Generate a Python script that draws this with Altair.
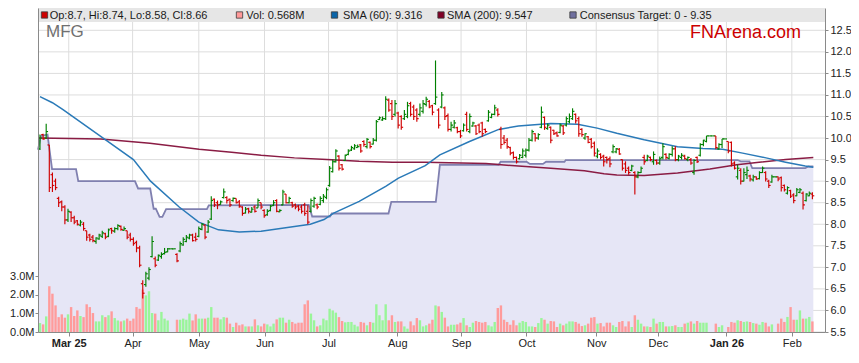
import altair as alt
import pandas as pd

# ---------------- data ----------------
opens = [9.75,10.08,10.0,9.84,9.15,9.0,8.6,8.52,8.4,8.1,
 8.28,8.15,8.08,7.98,8.0,7.85,7.75,7.7,7.6,7.66,
 7.72,7.78,7.72,7.9,7.84,7.9,7.95,7.86,7.85,7.75,
 7.65,7.58,7.45,6.62,6.6,6.75,7.25,7.2,7.17,7.25,
 7.32,7.36,7.43,7.43,7.3,7.38,7.52,7.6,7.68,7.75,
 7.7,7.72,7.88,7.98,7.82,8.12,8.58,8.5,8.46,8.62,
 8.62,8.58,8.55,8.6,8.52,8.4,8.26,8.36,8.28,8.4,
 8.38,8.5,8.32,8.22,8.32,8.44,8.55,8.29,8.45,8.7,
 8.5,8.5,8.45,8.42,8.4,8.45,8.3,8.3,8.42,8.45,
 8.46,8.55,8.62,8.9,9.22,9.45,9.58,9.38,9.48,9.62,
 9.72,9.75,9.78,9.84,9.92,9.8,9.9,9.86,9.95,10.43,
 10.42,10.45,10.88,10.8,10.55,10.58,10.5,10.45,10.5,10.8,
 10.72,10.65,10.55,10.62,10.78,10.85,10.75,10.8,10.65,10.72,
 10.7,10.52,10.2,10.25,10.24,10.15,10.17,10.55,10.15,10.28,
 10.28,10.3,10.35,10.2,10.4,10.48,10.55,10.65,10.2,10.0,
 9.95,9.78,9.66,9.55,9.52,9.55,9.6,9.72,9.95,10.1,
 10.0,10.25,10.48,10.22,10.25,10.18,10.12,10.13,10.28,10.3,
 10.38,10.45,10.55,10.45,10.2,10.0,10.03,9.97,9.88,9.58,
 9.62,9.58,9.55,9.52,9.68,9.68,9.74,9.5,9.4,9.3,
 9.25,9.2,9.1,9.2,9.55,9.48,9.55,9.45,9.48,9.42,
 9.55,9.62,9.53,9.62,9.75,9.5,9.55,9.58,9.5,9.5,
 9.2,9.55,9.6,9.85,9.92,10.05,10.05,10.05,9.75,9.85,
 9.98,9.92,9.9,9.42,9.1,9.25,9.0,9.15,9.12,9.03,
 9.1,9.06,9.2,9.2,9.0,8.98,9.1,9.1,9.08,8.9,
 8.72,8.78,8.68,8.66,8.74,8.72,8.55,8.66,8.7]

highs = [10.08,10.1,10.33,9.84,9.2,9.06,8.64,8.55,8.44,8.36,
 8.3,8.2,8.1,8.1,8.05,7.85,7.78,7.75,7.7,7.78,
 7.85,7.8,7.9,7.92,7.93,8.0,7.97,7.95,7.85,7.8,
 7.7,7.62,7.5,6.7,6.9,7.0,7.72,7.25,7.3,7.35,
 7.45,7.45,7.43,7.43,7.33,7.6,7.7,7.75,7.78,7.78,
 7.8,7.95,8.03,8.0,8.1,8.65,8.6,8.55,8.55,8.83,
 8.65,8.6,8.62,8.6,8.56,8.42,8.4,8.38,8.4,8.44,
 8.6,8.5,8.35,8.35,8.45,8.56,8.58,8.35,8.8,8.7,
 8.64,8.52,8.48,8.45,8.45,8.5,8.44,8.6,8.64,8.48,
 8.65,8.7,8.85,9.35,9.5,9.74,9.6,9.4,9.62,9.74,
 9.82,9.86,9.85,9.86,9.95,10.0,9.92,10.0,10.42,10.5,
 10.5,10.97,10.92,10.88,10.88,10.61,10.53,10.65,10.84,10.84,
 10.77,10.69,10.8,10.88,10.96,10.88,10.77,11.8,10.69,11.07,
 10.73,10.57,10.38,10.42,10.26,10.19,10.34,10.61,10.57,10.38,
 10.3,10.34,10.38,10.22,10.65,10.57,10.77,10.69,10.26,10.07,
 10.0,9.8,9.69,9.57,9.63,9.76,9.76,10.0,10.19,10.11,
 10.11,10.73,10.5,10.34,10.27,10.19,10.15,10.34,10.3,10.5,
 10.57,10.69,10.57,10.5,10.23,10.11,10.05,10.0,9.92,9.76,
 9.65,9.61,9.57,9.57,9.85,9.77,9.77,9.5,9.46,9.34,
 9.38,9.23,9.23,9.34,9.61,9.61,9.57,9.69,9.5,9.57,
 9.88,9.65,9.65,9.81,9.81,9.61,9.65,9.61,9.57,9.54,
 9.51,9.57,9.88,9.96,10.05,10.05,10.05,10.05,9.88,9.98,
 9.98,9.92,9.92,9.46,9.38,9.3,9.3,9.34,9.15,9.15,
 9.11,9.23,9.34,9.23,9.03,9.15,9.1,9.11,9.11,8.92,
 8.88,8.8,8.72,8.84,8.84,8.76,8.72,8.76,8.74]

lows = [9.72,9.96,9.98,8.75,8.75,8.79,8.4,8.3,8.0,8.05,
 8.05,8.0,7.97,7.95,7.85,7.62,7.6,7.58,7.55,7.64,
 7.68,7.65,7.7,7.78,7.8,7.86,7.85,7.85,7.65,7.6,
 7.5,7.35,7.0,6.28,6.55,6.7,7.23,7.0,7.15,7.2,
 7.3,7.35,7.43,7.43,7.12,7.35,7.5,7.58,7.65,7.6,
 7.6,7.7,7.86,7.65,7.8,8.1,8.4,8.35,8.45,8.6,
 8.48,8.4,8.52,8.48,8.38,8.2,8.25,8.25,8.27,8.27,
 8.38,8.35,8.15,8.2,8.3,8.42,8.28,8.28,8.44,8.48,
 8.48,8.38,8.35,8.3,8.25,8.2,8.0,8.27,8.38,8.35,
 8.44,8.5,8.58,8.87,9.2,9.43,9.25,9.25,9.47,9.6,
 9.7,9.73,9.78,9.66,9.8,9.76,9.76,9.85,9.92,10.42,
 10.4,10.42,10.61,10.42,10.5,10.22,10.19,10.42,10.46,10.5,
 10.42,10.38,10.5,10.57,10.73,10.69,10.53,10.77,10.22,10.69,
 10.42,10.15,10.15,10.22,10.11,10.0,10.15,10.15,10.11,10.26,
 10.07,10.11,10.03,10.11,10.38,10.46,10.53,10.5,9.75,9.85,
 9.75,9.6,9.5,9.41,9.5,9.53,9.55,9.69,9.92,9.92,
 9.96,10.23,10.19,10.19,9.88,10.07,10.03,10.11,10.07,10.27,
 10.34,10.42,10.34,10.03,10.03,9.96,9.88,9.76,9.57,9.53,
 9.5,9.34,9.41,9.32,9.65,9.65,9.61,9.25,9.19,9.15,
 9.23,8.69,9.07,9.19,9.38,9.46,9.46,9.38,9.38,9.38,
 9.5,9.5,9.5,9.57,9.46,9.46,9.5,9.5,9.46,9.38,
 9.15,9.42,9.57,9.81,9.9,10.05,10.05,9.74,9.73,9.77,
 9.98,9.65,9.34,9.27,9.04,8.92,8.99,9.05,8.99,8.99,
 9.03,9.04,9.19,8.99,8.84,8.96,9.1,9.0,8.76,8.76,
 8.69,8.61,8.49,8.65,8.72,8.34,8.53,8.65,8.58]

closes = [10.0,9.98,10.15,8.85,8.9,8.85,8.5,8.4,8.1,8.3,
 8.15,8.05,8.0,8.05,7.9,7.7,7.65,7.62,7.68,7.75,
 7.8,7.7,7.87,7.85,7.9,7.97,7.88,7.9,7.7,7.65,
 7.55,7.45,7.05,6.4,6.85,6.95,7.6,7.05,7.28,7.3,
 7.35,7.43,7.43,7.43,7.15,7.55,7.65,7.7,7.75,7.62,
 7.65,7.9,8.0,7.7,8.05,8.55,8.45,8.45,8.52,8.75,
 8.55,8.45,8.6,8.5,8.42,8.25,8.35,8.3,8.35,8.3,
 8.55,8.4,8.2,8.3,8.42,8.5,8.3,8.32,8.75,8.5,
 8.6,8.42,8.4,8.35,8.3,8.25,8.05,8.55,8.6,8.4,
 8.6,8.65,8.8,9.3,9.45,9.7,9.3,9.28,9.6,9.7,
 9.78,9.82,9.8,9.7,9.85,9.97,9.8,9.95,10.38,10.47,
 10.45,10.9,10.65,10.5,10.8,10.3,10.25,10.55,10.75,10.55,
 10.5,10.45,10.7,10.8,10.9,10.72,10.6,10.95,10.3,11.0,
 10.5,10.2,10.3,10.35,10.15,10.05,10.3,10.2,10.5,10.35,
 10.1,10.15,10.1,10.15,10.6,10.55,10.7,10.55,9.85,9.9,
 9.8,9.65,9.55,9.45,9.6,9.7,9.72,9.95,10.15,10.0,
 10.08,10.6,10.25,10.3,9.95,10.1,10.05,10.3,10.12,10.45,
 10.5,10.62,10.4,10.1,10.08,10.1,9.9,9.8,9.65,9.7,
 9.55,9.45,9.5,9.4,9.8,9.75,9.63,9.3,9.25,9.2,
 9.35,9.1,9.2,9.3,9.45,9.58,9.5,9.62,9.42,9.52,
 9.8,9.55,9.62,9.75,9.5,9.58,9.6,9.52,9.55,9.42,
 9.48,9.45,9.85,9.95,10.05,10.05,10.05,9.78,9.85,9.98,
 9.98,9.7,9.4,9.3,9.3,9.0,9.2,9.25,9.05,9.1,
 9.05,9.2,9.3,9.05,8.9,9.1,9.1,9.05,8.85,8.8,
 8.85,8.65,8.55,8.8,8.8,8.45,8.7,8.72,8.66]

volumes = [0.48,0.41,0.84,2.46,2.06,1.43,0.8,0.95,0.77,0.95,
 1.34,0.86,1.16,0.86,0.8,1.49,1.34,1.02,0.57,0.57,
 0.9,0.8,0.9,1.11,0.75,0.62,0.57,0.62,0.72,0.6,
 0.72,1.34,1.25,2.28,1.97,2.19,1.02,0.99,0.63,1.08,
 0.72,0.62,0.0,0.0,0.66,0.66,0.72,0.66,0.99,0.62,
 0.95,0.72,0.72,0.72,0.77,1.34,0.77,0.77,0.68,0.8,
 0.77,0.45,0.27,0.5,0.36,0.41,0.3,0.3,0.3,0.68,
 0.36,0.3,0.45,0.41,0.3,0.45,0.68,0.77,0.77,0.5,
 0.66,0.54,0.45,0.5,0.5,1.49,1.7,0.99,0.63,0.3,
 0.36,0.72,0.63,1.25,1.16,1.04,0.8,0.59,0.52,0.54,
 0.54,0.39,0.3,0.54,0.5,0.36,0.54,0.5,1.49,0.9,
 0.63,1.49,0.63,0.9,0.54,0.57,0.57,0.3,0.18,0.57,
 0.36,0.75,0.63,0.3,0.36,0.45,0.66,1.43,1.38,1.08,
 0.77,0.3,0.39,0.39,0.41,0.5,0.75,0.36,0.27,0.5,
 0.59,0.54,0.5,0.54,0.36,0.3,0.54,1.29,1.43,0.66,
 0.54,0.39,0.63,0.36,0.5,0.59,0.54,0.3,0.3,0.27,
 0.48,0.75,0.66,0.45,0.59,0.57,0.27,0.45,0.36,0.45,
 0.57,0.57,0.54,0.45,0.32,0.36,0.45,0.77,0.8,0.45,
 0.48,0.3,0.5,0.5,0.36,0.27,0.54,0.59,0.3,0.57,
 0.27,0.9,0.66,0.45,0.3,0.3,0.27,0.72,0.45,0.54,
 0.54,0.3,0.3,0.32,0.36,0.27,0.27,0.45,0.5,0.57,
 0.45,0.59,0.5,0.5,0.5,0.0,0.0,0.45,0.27,0.36,
 0.0,0.27,0.54,0.5,0.63,0.59,0.54,0.57,0.54,0.48,
 0.45,0.39,0.54,0.5,0.3,0.41,0.0,0.45,0.72,0.54,
 0.81,1.34,0.66,0.66,1.16,0.72,0.72,0.81,0.568]

sma60_idx = [0, 4, 7.4, 19.5, 30, 35.5, 44.7, 51, 57.3, 64, 71, 81.7, 86.8, 91.2, 94.3,
             102.5, 111, 115.1, 123.7, 128.4, 137.9, 147.3, 153.6, 164, 172.6, 178.9,
             185.2, 194, 204.7, 212.9, 219.2, 225.6, 233.1, 239.4, 245.7, 248.3]
sma60_val = [10.96, 10.82, 10.66, 10.04, 9.5, 9.0, 8.4, 8.05, 7.87, 7.82, 7.84, 7.95, 8.0,
             8.11, 8.26, 8.53, 8.88, 9.07, 9.36, 9.61, 9.92, 10.2, 10.28, 10.34, 10.32,
             10.23, 10.11, 9.96, 9.8, 9.76, 9.74, 9.65, 9.54, 9.44, 9.35, 9.32]

sma200_idx = [-0.6, 19.6, 35.3, 51.1, 61.5, 71, 81.7, 92.1, 102.5, 113.2, 123.7, 143.2,
              153.6, 164, 174.8, 181.1, 185.2, 194, 204.7, 215.1, 223.7, 230.9, 239.4, 248.3]
sma200_val = [10.0, 9.98, 9.88, 9.74, 9.67, 9.6, 9.54, 9.5, 9.46, 9.44, 9.44, 9.41,
              9.35, 9.3, 9.24, 9.17, 9.14, 9.13, 9.19, 9.28, 9.38, 9.44, 9.5, 9.55]

cons_idx = [-0.63, 0.32, 2.43, 3.88, 11.58, 12.3, 30.5, 31.5, 35.4, 36.5, 37.2, 38.4, 39.3,
            40.5, 53.6, 54.2, 86.3, 87.4, 93.1, 93.7, 111.9, 112.8, 127.1, 128.4, 147.3,
            147.9, 156.2, 157.3, 161.5, 162.5, 168.4, 168.8, 224.0, 225.0, 227.8, 228.7,
            245.7, 246.7, 248.3]
cons_val = [9.73, 10.05, 10.08, 9.28, 9.28, 9.0, 9.0, 8.83, 8.83, 8.36, 8.36, 8.17, 8.17,
            8.35, 8.35, 8.44, 8.45, 8.18, 8.18, 8.25, 8.25, 8.52, 8.52, 9.38, 9.38,
            9.45, 9.45, 9.40, 9.40, 9.45, 9.45, 9.49, 9.49, 9.46, 9.46, 9.30,
            9.30, 9.34, 9.34]

month_pos = [9.24, 29.75, 51.0, 72.1, 92.65, 114.7, 135.2, 156.2, 178.6, 198.4, 220.4, 241.4]
month_lab = ["Mar 25", "Apr", "May", "Jun", "Jul", "Aug", "Sep", "Oct", "Nov", "Dec", "Jan 26", "Feb"]

price_ticks = [5.5, 6.0, 6.5, 7.0, 7.5, 8.0, 8.5, 9.0, 9.5, 10.0, 10.5, 11.0, 11.5, 12.0, 12.5]
vol_ticks = [0, 1, 2, 3]

legend_labels = [
    f"Op:{opens[-1]}, Hi:{highs[-1]}, Lo:{lows[-1]}, Cl:{closes[-1]}",
    f"Vol: {volumes[-1]}M",
    "SMA (60): 9.316",
    "SMA (200): 9.547",
    "Consensus Target: 0 - 9.35",
]
legend_colors = ["#cc0000", "#ff9999", "#0a64a8", "#800026", "#6e6e9e"]

# ---------------- layout / style ----------------
W, H = 787, 324
FONT = "Arial"
GRID = "#dddddd"
AXC = "#8a8a8a"
legend_sq_x = [6.5, 201.5, 296.5, 403, 535]
legend_tx_x = [11.7, 208.3, 305, 409, 541.7]

n = min(len(opens), len(highs), len(lows), len(closes), len(volumes))
bars = pd.DataFrame({"i": list(range(n)), "o": opens[:n], "h": highs[:n],
                     "l": lows[:n], "c": closes[:n], "v": volumes[:n]})
cons = pd.DataFrame({"idx": cons_idx, "val": cons_val})
s60 = pd.DataFrame({"idx": sma60_idx, "val": sma60_val})
s200 = pd.DataFrame({"idx": sma200_idx, "val": sma200_val})
one = pd.DataFrame({"k": [0]})

xsc = alt.Scale(domain=[-0.631, 252.05], nice=False, zero=False)
psc = alt.Scale(domain=[5.5, 5.5 + H / 43.1], nice=False, zero=False)
vsc = alt.Scale(domain=[0, H / 18.6], nice=False, zero=False)

lab_expr = ("[" + ",".join(f"'{s}'" for s in month_lab) + "][indexof(["
            + ",".join(str(p) for p in month_pos) + "], datum.value)]")
bold_test = " || ".join(f"datum.value == {p}" for p, s in zip(month_pos, month_lab) if " " in s)

x_axis = alt.Axis(values=month_pos, labelExpr=lab_expr, orient="bottom",
                  labelFontWeight={"condition": {"test": bold_test, "value": "bold"}, "value": "normal"},
                  grid=False, domainColor=AXC, tickColor=AXC, tickSize=4, labelFontSize=11,
                  labelFont=FONT, labelColor="#222222", labelPadding=1, title=None,
                  labelFlush=False, labelOverlap=False, zindex=1)
p_axis = alt.Axis(orient="right", values=price_ticks, format=".1f", grid=False,
                  domainColor=AXC, tickColor=AXC, tickSize=3, labelFontSize=11, labelFont=FONT,
                  labelColor="#222222", labelPadding=2, title=None, labelFlush=False,
                  labelOverlap=False, zindex=1)
v_axis = alt.Axis(orient="left", values=vol_ticks, labelExpr="format(datum.value, '.1f') + 'M'",
                  grid=False, domainColor=AXC, tickColor=AXC, tickSize=3, labelFontSize=11,
                  labelFont=FONT, labelColor="#222222", labelPadding=1, title=None,
                  labelFlush=False, labelOverlap=False, zindex=1)


def X(field):
    # every layer carries the identical x axis so the shared axis merges cleanly
    return alt.X(field, scale=xsc, axis=x_axis)


# ---------------- group 1: grid, consensus area, legend band ----------------
hgrid = alt.Chart(pd.DataFrame({"p": price_ticks})).mark_rule(color=GRID, strokeWidth=1).encode(
    y=alt.Y("p:Q", scale=psc, axis=None), x=alt.value(0), x2=alt.value(W))
vgrid = alt.Chart(pd.DataFrame({"m": month_pos})).mark_rule(color=GRID, strokeWidth=1).encode(
    x=X("m:Q"), y=alt.value(0), y2=alt.value(H))
area = alt.Chart(cons).mark_area(color="#e6e6f6", opacity=1).encode(
    x=X("idx:Q"), y=alt.Y("val:Q", scale=psc, axis=None), y2=alt.datum(5.5))
band = alt.Chart(one).mark_rect(color="#e6e6e6").encode(
    x=alt.value(0), x2=alt.value(W), y=alt.value(0), y2=alt.value(14))
group1 = alt.layer(hgrid, vgrid, area, band)

# ---------------- volume ----------------
vol = alt.Chart(bars).transform_calculate(
    vcol="datum.c > datum.o ? '#99f599' : (datum.c < datum.o ? '#ff9b9b' : '#8c8c8c')"
).mark_rule(strokeWidth=2.4).encode(
    x=X("i:Q"),
    y=alt.Y("v:Q", scale=vsc, axis=v_axis),
    y2=alt.datum(0),
    color=alt.Color("vcol:N", scale=None))

# ---------------- group 3: lines, OHLC bars, texts ----------------
cons_line = alt.Chart(cons).mark_line(color="#8080b0", strokeWidth=1.8).encode(
    x=X("idx:Q"), y=alt.Y("val:Q", scale=psc, axis=None))
l200 = alt.Chart(s200).mark_line(color="#8a1c44", strokeWidth=1.5).encode(
    x=X("idx:Q"), y=alt.Y("val:Q", scale=psc, axis=None))
l60 = alt.Chart(s60).mark_line(color="#2a7ab8", strokeWidth=1.5).encode(
    x=X("idx:Q"), y=alt.Y("val:Q", scale=psc, axis=None))

ob = alt.Chart(bars).transform_calculate(
    pcol="datum.c >= datum.o ? '#008000' : '#d00000'",
    il="datum.i - 0.6", ir="datum.i + 0.6")
hl = ob.mark_rule(strokeWidth=1.15).encode(
    x=X("i:Q"), y=alt.Y("l:Q", scale=psc, axis=None),
    y2="h:Q", color=alt.Color("pcol:N", scale=None))
op = ob.mark_rule(strokeWidth=1.15).encode(
    x=X("il:Q"), x2="i:Q",
    y=alt.Y("o:Q", scale=psc, axis=None), color=alt.Color("pcol:N", scale=None))
cl = ob.mark_rule(strokeWidth=1.15).encode(
    x=X("i:Q"), x2="ir:Q",
    y=alt.Y("c:Q", scale=psc, axis=None), color=alt.Color("pcol:N", scale=None))

texts = []
for lab, col, sx, tx in zip(legend_labels, legend_colors, legend_sq_x, legend_tx_x):
    texts.append(alt.Chart(one).mark_square(size=40, filled=True, fill=col, stroke="#3a3a3a",
                                            strokeWidth=0.8, opacity=1).encode(
        x=alt.value(sx), y=alt.value(7)))
    texts.append(alt.Chart(one).mark_text(align="left", baseline="middle", fontSize=11,
                                          font=FONT, color="#1a1a1a").encode(
        x=alt.value(tx), y=alt.value(7.5), text=alt.value(lab)))
texts.append(alt.Chart(one).mark_text(align="left", baseline="middle", fontSize=17, font=FONT,
                                      color="#707070").encode(
    x=alt.value(8), y=alt.value(24), text=alt.value("MFG")))
texts.append(alt.Chart(one).mark_text(align="right", baseline="middle", fontSize=18, font=FONT,
                                      color="#cc0000").encode(
    x=alt.value(W - 24), y=alt.value(25), text=alt.value("FNArena.com")))

group3 = alt.layer(cons_line, l200, l60, hl, op, cl, *texts)

# ---------------- price axis carrier (invisible marks, own y scale) ----------------
p_carrier = alt.Chart(pd.DataFrame({"p": price_ticks})).mark_point(opacity=0).encode(
    y=alt.Y("p:Q", scale=psc, axis=p_axis))

chart = alt.layer(group1, vol, group3, p_carrier).resolve_scale(y="independent").properties(
    width=W, height=H,
    padding={"left": 30, "right": 26, "top": 0, "bottom": 27},
    autosize=alt.AutoSizeParams(type="none"),
).configure_view(stroke=None)

chart.save("out.html", embed_options={"renderer": "svg", "actions": False})
